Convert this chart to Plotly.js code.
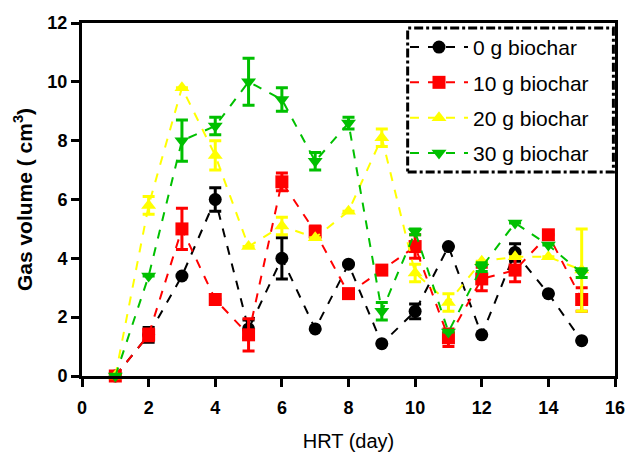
<!DOCTYPE html>
<html><head><meta charset="utf-8">
<script src="https://cdn.plot.ly/plotly-3.0.1.min.js"></script>
<style>body{margin:0;padding:0;background:#fff}#chart{width:628px;height:455px}</style>
</head><body><div id="chart"></div>
<script>
const hrt = [1,2,3,4,5,6,7,8,9,10,11,12,13,14,15];
const names = ["0 g biochar","10 g biochar","20 g biochar","30 g biochar"];
const colors = ["#000000","#ff0000","#ffff00","#00c000"];
const symbols = ["circle","square","triangle-up","triangle-down"];
const g0  = [0,1.4,3.4,6.0,1.6,4.0,1.6,3.8,1.1,2.2,4.4,1.4,4.2,2.8,1.2];
const g0e = [0,0.25,0,0.4,0.3,0.7,0,0,0,0.25,0,0,0.3,0,0];
const g10  = [0,1.4,5.0,2.6,1.4,6.6,4.9,2.8,3.6,4.4,1.3,3.3,3.6,4.8,2.6];
const g10e = [0,0.2,0.7,0,0.55,0.3,0.2,0,0,0.4,0.3,0.4,0.4,0,0.4];
const g20  = [0,5.8,9.8,7.5,4.4,5.1,4.7,5.6,8.1,3.5,2.5,3.9,4.05,4.05,3.6];
const g20e = [0,0.3,0,0.5,0,0.3,0,0,0.3,0.3,0.3,0,0,0,1.4];
const g30  = [0,3.4,8.0,8.5,10.0,9.4,7.3,8.6,2.2,4.9,1.5,3.7,5.2,4.45,3.5];
const g30e = [0,0,0.7,0.3,0.8,0.4,0.3,0.2,0.3,0.1,0,0.15,0,0,0.15];
const ys = [g0,g10,g20,g30];
const es = [g0e,g10e,g20e,g30e];
const font = "'Liberation Sans', Arial, sans-serif";
const traces = ys.map((y,i)=>({
  x: hrt, y: y, name: names[i], legendgroup: 'g'+i, type: 'scatter', mode: 'lines+markers',
  line: {color: colors[i], width: 2, dash: 'dash'},
  marker: {color: colors[i], symbol: symbols[i], size: 13},
  error_y: {type: 'data', array: es[i], visible: true, color: colors[i], thickness: 3, width: 6},
  cliponaxis: false
}));
const layout = {
  width: 628, height: 455,
  margin: {l: 82, r: 13, t: 23, b: 79},
  paper_bgcolor: '#fff', plot_bgcolor: '#fff',
  font: {family: font, size: 18, color: '#000'},
  xaxis: {range: [0,16], dtick: 2, tick0: 0, showgrid: false, zeroline: false,
    showline: true, linewidth: 3, linecolor: '#000', mirror: true,
    ticks: 'outside', ticklen: 8, tickwidth: 3, tickcolor: '#000', ticklabelstandoff: 5,
    tickfont: {family: font, size: 18, color: '#000', weight: 'bold'},
    title: {text: 'HRT (day)', font: {family: font, size: 20, color: '#000'}, standoff: 18}},
  yaxis: {range: [0,12], dtick: 2, tick0: 0, showgrid: false, zeroline: false,
    showline: true, linewidth: 3, linecolor: '#000', mirror: true,
    ticks: 'outside', ticklen: 8, tickwidth: 3, tickcolor: '#000',
    tickfont: {family: font, size: 18, color: '#000', weight: 'bold'},
    title: {text: '<b>Gas volume ( cm<sup>3</sup>)</b>', font: {family: font, size: 21, color: '#000'}, standoff: 10}},
  legend: {x: 0.606, y: 0.989, xanchor: 'left', yanchor: 'top', bgcolor: 'rgba(0,0,0,0)',
    borderwidth: 0, font: {family: font, size: 21, color: '#000'}, tracegroupgap: 5, itemwidth: 58},
  shapes: [{type: 'rect', xref: 'paper', yref: 'paper', x0: 0.611, x1: 0.997, y0: 0.578, y1: 0.986,
    line: {color: '#000', width: 3, dash: 'dashdot'}, fillcolor: '#fff', layer: 'above'}],
  showlegend: true
};
Plotly.newPlot('chart', traces, layout, {displayModeBar: false, staticPlot: true});
</script></body></html>
